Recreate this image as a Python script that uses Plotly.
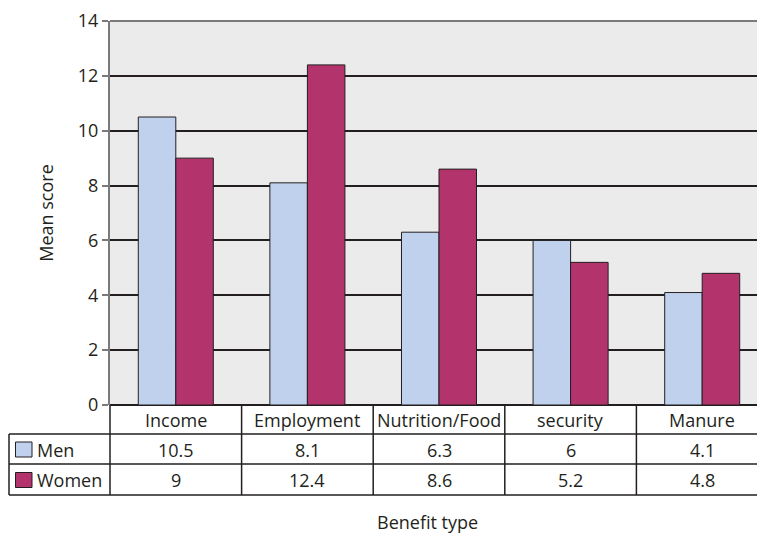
import plotly.graph_objects as go

categories = ["Income", "Employment", "Nutrition/Food", "security", "Manure"]
men = [10.5, 8.1, 6.3, 6, 4.1]
women = [9, 12.4, 8.6, 5.2, 4.8]
series_names = ["Men", "Women"]
y_title = "Mean score"
x_title = "Benefit type"

MEN_COLOR = "#C0D1EE"
WOMEN_COLOR = "#B3346D"
LINE = "#231F20"
FONT = "Open Sans"
FS = 18

W, H = 757, 533
L, R, T, B = 110, 0, 21, 128
PH = H - T - B
PW = W - L - R


def py(p):  # pixel y -> paper y
    return (H - B - p) / PH


def px(p):  # pixel x -> paper x
    return (p - L) / PW


def ann(x, y, text, xref="paper", xanchor="center"):
    return dict(x=x, y=y, xref=xref, yref="paper", text=text, showarrow=False,
                xanchor=xanchor, yanchor="middle",
                font=dict(family=FONT, size=FS, color=LINE))


fig = go.Figure()
fig.add_trace(go.Bar(x=list(range(len(categories))), y=men, name=series_names[0],
                     marker=dict(color=MEN_COLOR, line=dict(color=LINE, width=1))))
fig.add_trace(go.Bar(x=list(range(len(categories))), y=women, name=series_names[1],
                     marker=dict(color=WOMEN_COLOR, line=dict(color=LINE, width=1))))

shapes = []
annotations = []

# top border of plot area
shapes.append(dict(type="line", xref="paper", yref="paper", x0=0, x1=1, y0=1, y1=1,
                   line=dict(color="#7A7A7A", width=2)))

# table horizontal lines
for p in (434, 464, 495):
    shapes.append(dict(type="line", xref="paper", yref="paper", x0=px(9), x1=1, y0=py(p), y1=py(p),
                       line=dict(color=LINE, width=1.5)))
# table left borders
shapes.append(dict(type="line", xref="paper", yref="paper", x0=px(9), x1=px(9), y0=py(434), y1=py(495),
                   line=dict(color=LINE, width=1.5)))
shapes.append(dict(type="line", xref="paper", yref="paper", x0=0, x1=0, y0=0, y1=py(495),
                   line=dict(color=LINE, width=1.5)))
# column boundaries
for i in range(len(categories) - 1):
    shapes.append(dict(type="line", xref="x", yref="paper", x0=i + 0.5, x1=i + 0.5, y0=0, y1=py(495),
                       line=dict(color=LINE, width=1.5)))

# header row and value rows
for i, c in enumerate(categories):
    annotations.append(ann(i, py(420), c, xref="x"))
    annotations.append(ann(i, py(450), f"{men[i]:g}", xref="x"))
    annotations.append(ann(i, py(480), f"{women[i]:g}", xref="x"))

# legend keys in table
for name, color, yc in ((series_names[0], MEN_COLOR, 449.5), (series_names[1], WOMEN_COLOR, 480)):
    shapes.append(dict(type="rect", xref="paper", yref="paper", x0=px(15.5), x1=px(32), y0=py(yc - 7.5),
                       y1=py(yc + 7.5), fillcolor=color, line=dict(color=LINE, width=1)))
    annotations.append(ann(px(35), py(yc), name, xanchor="left"))

# x axis title
annotations.append(ann(px(427), py(522), x_title))

fig.update_layout(
    width=W, height=H,
    margin=dict(l=L, r=R, t=T, b=B, pad=0),
    paper_bgcolor="white",
    plot_bgcolor="#EBEBEB",
    barmode="group",
    bargap=0.43,
    bargroupgap=0,
    showlegend=False,
    font=dict(family=FONT, size=FS, color=LINE),
    shapes=shapes,
    annotations=annotations,
)
fig.update_xaxes(range=[-0.5, -0.5 + PW / 131.6], showticklabels=False, showgrid=False,
                 zeroline=False, showline=False, ticks="")
fig.update_yaxes(range=[0, 14], dtick=2, showgrid=True, gridcolor=LINE, gridwidth=1.5,
                 zeroline=True, zerolinecolor=LINE, zerolinewidth=1.5,
                 showline=True, linecolor="#7A7A7A", linewidth=2,
                 ticks="outside", ticklen=6, tickcolor="#7A7A7A", tickwidth=1.5,
                 tickfont=dict(family=FONT, size=FS, color=LINE),
                 title=dict(text=y_title, font=dict(family=FONT, size=FS, color=LINE), standoff=20))

fig.write_html("out.html", config={"displayModeBar": False},
               post_script="document.body.style.margin='0';document.body.style.overflow='hidden';")
